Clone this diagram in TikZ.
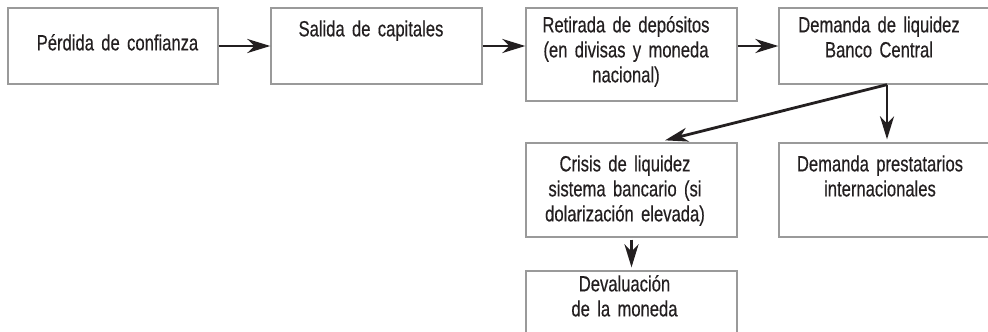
\documentclass[tikz,border=0pt]{standalone}
\usepackage{fontspec}
\setmainfont[FakeStretch=0.755,FakeBold=0.4]{Liberation Sans}
\usetikzlibrary{arrows.meta}
\definecolor{boxline}{HTML}{9A9A9A}
\definecolor{txtcol}{HTML}{231F20}
\tikzset{
  box/.style={draw=boxline, line width=1.3pt, fill=white, inner sep=0pt, minimum height=76pt, minimum width=211pt},
  lbl/.style={text=txtcol, inner sep=0pt, anchor=base, text width=215pt, align=center, font=\fontsize{22}{25}\selectfont},
  arr/.style={draw=txtcol, line width=2.8pt, -{Stealth[length=23pt,width=14pt,inset=7pt]}}
}
\begin{document}
\begin{tikzpicture}[x=1pt,y=-1pt]
\useasboundingbox (0,0) rectangle (988,332);
\begin{scope}
\clip (0,0) rectangle (988,332);
\node[box, minimum width=210pt] (b1) at (113,46) {};
\node[box] (b2) at (376.5,46) {};
\node[box, minimum height=93pt] (b3) at (631.5,54.5) {};
\node[box, minimum width=216pt] (b4) at (887,46) {};
\node[box, minimum height=94pt] (b5) at (631.5,190) {};
\node[box, minimum width=216pt, minimum height=94pt] (b6) at (887,190) {};
\node[box, minimum height=80pt] (b7) at (631.5,311) {};
\end{scope}

\node[lbl] (t1) at ([xshift=4.5pt,yshift=-43pt]b1.north) {Pérdida de confianza};
\node[lbl] (t2) at ([xshift=-5.5pt,yshift=-29pt]b2.north) {Salida de capitales};
\node[lbl] (t3) at ([xshift=-5.5pt,yshift=-25pt]b3.north) {Retirada de depósitos\\(en divisas y moneda\\nacional)};
\node[lbl] (t4) at ([xshift=-8pt,yshift=-25pt]b4.north) {Demanda de liquidez\\Banco Central};
\node[lbl] (t5) at ([xshift=-6.5pt,yshift=-29pt]b5.north) {Crisis de liquidez\\sistema bancario (si\\dolarización elevada)};
\node[lbl] (t6) at ([xshift=-7pt,yshift=-29pt]b6.north) {Demanda prestatarios\\internacionales};
\node[lbl] (t7) at ([xshift=-7pt,yshift=-21pt]b7.north) {Devaluación\\de la moneda};

\draw[arr] (b1.east) -- (b2.west);
\draw[arr] (b2.east) -- (b2.east -| b3.west);
\draw[arr] (b3.east |- b4.west) -- (b4.west);
\draw[arr, shorten >=3pt] (b4.south) -- (b6.north);
\draw[arr] (b4.south) -- ([xshift=33.5pt,yshift=2pt]b5.north);
\draw[arr, shorten <=2pt, shorten >=3pt] (b5.south) -- (b7.north);
\end{tikzpicture}
\end{document}
